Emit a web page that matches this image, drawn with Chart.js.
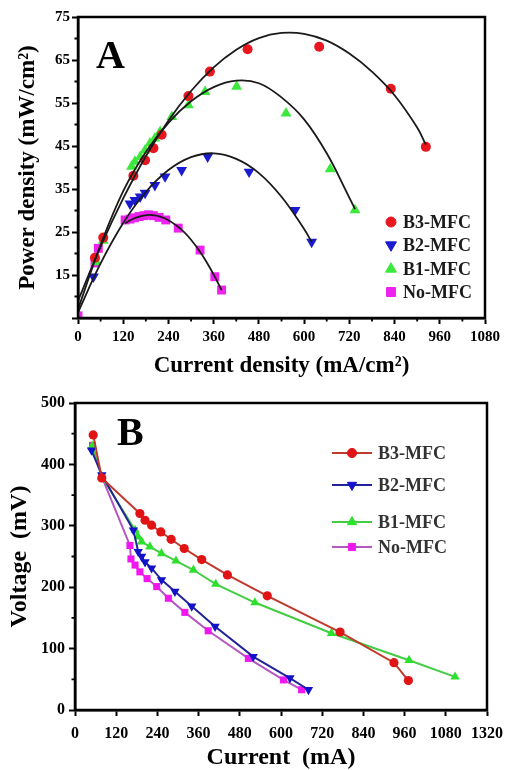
<!DOCTYPE html>
<html>
<head>
<meta charset="utf-8">
<script src="https://cdn.jsdelivr.net/npm/chart.js@4.4.1/dist/chart.umd.min.js"></script>
<style>
  html, body { margin: 0; padding: 0; background: #fff; }
  #wrap { position: relative; width: 515px; height: 770px; }
  .panel { position: absolute; left: 0; width: 515px; height: 385px; }
</style>
</head>
<body>
<div id="wrap">
  <div class="panel" style="top:0"><canvas id="chartA" width="515" height="385"></canvas></div>
  <div class="panel" style="top:385px"><canvas id="chartB" width="515" height="385"></canvas></div>
</div>
<script>
/* ================= DATA : panel A (power density) ================= */

const seriesNames = ["B3-MFC", "B2-MFC", "B1-MFC", "No-MFC"];

const b3CurrentA = [45, 67, 147, 178, 200, 222, 293, 350, 450, 640, 830, 923];
const b3PowerA   = [19, 23.7, 38.1, 41.7, 44.5, 47.6, 56.6, 62.3, 67.5, 68.1, 58.3, 44.8];

const b2CurrentA = [41, 138, 151, 165, 178, 204, 231, 275, 344, 454, 576, 620];
const b2PowerA   = [14.6, 31.6, 32.4, 33.2, 34.1, 35.9, 37.9, 39.4, 42.5, 39.0, 30.1, 22.7];

const b1CurrentA = [48, 67, 142, 151, 165, 178, 191, 204, 218, 249, 293, 337, 421, 552, 669, 735];
const b1PowerA   = [18, 23, 40.2, 41.4, 42.5, 44, 45.6, 46.8, 48.3, 51.8, 54.5, 57.6, 58.8, 52.6, 39.6, 30.1];

const noCurrentA = [0, 45, 54, 125, 138, 150, 162, 175, 187, 200, 215, 233, 266, 324, 363, 381];
const noPowerA   = [5.5, 17.8, 21.2, 27.8, 28.0, 28.3, 28.6, 28.8, 29.0, 28.8, 28.4, 27.8, 25.9, 20.8, 14.6, 11.5];

// fitted curves (black)
const b3FitX = [0, 60, 120, 180, 240, 300, 360, 420, 480, 540, 600, 660, 720, 780, 840, 900, 923];
const b3FitY = [9, 21.6, 32.8, 42.6, 50.9, 57.8, 63.3, 67.4, 70.1, 71.3, 71.1, 69.5, 66.5, 62.3, 56.8, 49.3, 45.3];
const b1FitX = [0, 60, 120, 180, 240, 300, 360, 420, 480, 540, 600, 660, 720, 735];
const b1FitY = [7, 22, 34.5, 43.6, 50.4, 55.4, 58.7, 60.2, 59.6, 56.3, 51.2, 43.3, 33.0, 30.3];
const b2FitX = [0, 60, 120, 180, 240, 300, 360, 420, 480, 540, 600, 620];
const b2FitY = [6.3, 17.7, 27.1, 34.3, 39.4, 42.4, 43.3, 42.0, 38.7, 33.2, 25.7, 22.7];
const noFitX = [125, 150, 190, 230, 270, 300, 330, 360, 381];
const noFitY = [27.0, 28.2, 29.0, 28.2, 25.9, 23.2, 19.6, 15.1, 11.5];

const xTicksA = ["0", "120", "240", "360", "480", "600", "720", "840", "960", "1080"];
const yTicksA = ["", "15", "25", "35", "45", "55", "65", "75"];

/* ================= DATA : panel B (polarisation) ================= */

const b3CurrentB = [53, 78, 189, 204, 223, 250, 280, 318, 369, 444, 560, 772, 929, 971];
const b3VoltB    = [448, 378, 320, 309, 301, 290, 278, 263, 245, 220, 186, 127, 77, 48];

const b2CurrentB = [48, 78, 170, 184, 194, 204, 223, 252, 291, 340, 408, 519, 626, 680];
const b2VoltB    = [423, 383, 293, 258, 250, 241, 231, 212, 193, 169, 136, 87, 52, 33];

const b1CurrentB = [50, 78, 175, 184, 194, 218, 252, 294, 345, 410, 524, 747, 973, 1107];
const b1VoltB    = [430, 380, 293, 282, 274, 266, 255, 243, 228, 205, 175, 125, 81, 54];

const noCurrentB = [51, 78, 160, 163, 175, 189, 210, 238, 272, 320, 388, 505, 607, 660];
const noVoltB    = [431, 380, 268, 246, 236, 225, 214, 201, 182, 159, 129, 84, 49, 33];

// the last label of the original axis reads 1320 although it sits one step after 1080
const xTicksB = ["0", "120", "240", "360", "480", "600", "720", "840", "960", "1080", "1320"];
const yTicksB = ["0", "100", "200", "300", "400", "500"];

/* ================= HELPERS ================= */

const SERIF = '"Liberation Serif", "Times New Roman", serif';

const pts = (xs, ys) => xs.map((x, i) => ({ x, y: ys[i] }));

function axis(o) {
    return {
        type: "linear",
        position: o.position,
        min: o.min,
        max: o.max,
        ticks: {
            stepSize: o.step,
            autoSkip: false,
            maxRotation: 0,
            color: "#000",
            padding: o.tickPad,
            font: { family: SERIF, size: o.tickSize, weight: "bold" },
            callback: (v, i) => o.labels[i],
        },
        grid: {
            drawOnChartArea: false,
            drawTicks: true,
            tickLength: 6,
            tickWidth: 2,
            tickColor: "#000",
        },
        border: { display: true, color: "#000", width: 2.5 },
        title: {
            display: true,
            text: o.title,
            color: "#000",
            padding: o.titlePad,
            font: { family: SERIF, size: o.titleSize, weight: "bold", lineHeight: 1 },
        },
        afterFit: s => {
            if (s.isHorizontal()) s.height = o.size;
            else s.width = o.size;
        },
    };
}

function drawMarker(ctx, style, radius, rotation, color, x, y) {
    ctx.save();
    ctx.fillStyle = color;
    ctx.strokeStyle = color;
    ctx.lineWidth = 1;
    Chart.helpers.drawPoint(ctx, { pointStyle: style, radius, rotation, borderWidth: 1 }, x, y);
    ctx.restore();
}

// frame, minor ticks, panel letter, legend
function decorPlugin(cfg) {
    return {
        id: "decor",
        afterDraw(chart) {
            const { ctx, chartArea: a, scales } = chart;
            ctx.save();

            ctx.strokeStyle = "#000";
            ctx.lineWidth = 2.5;
            ctx.strokeRect(a.left, a.top, a.right - a.left, a.bottom - a.top);

            ctx.lineWidth = 1.8;
            ctx.beginPath();
            cfg.minorX.forEach(v => {
                const px = scales.x.getPixelForValue(v);
                ctx.moveTo(px, a.bottom);
                ctx.lineTo(px, a.bottom + 3.5);
            });
            cfg.minorY.forEach(v => {
                const py = scales.y.getPixelForValue(v);
                ctx.moveTo(a.left, py);
                ctx.lineTo(a.left - 3.5, py);
            });
            ctx.stroke();

            ctx.fillStyle = "#000";
            ctx.font = `bold 40px ${SERIF}`;
            ctx.textBaseline = "alphabetic";
            ctx.textAlign = "left";
            ctx.fillText(cfg.letter, cfg.letterX, cfg.letterY);

            const lg = cfg.legend;
            ctx.font = `bold 18px ${SERIF}`;
            ctx.textBaseline = "middle";
            lg.rows.forEach((y, i) => {
                const ds = chart.data.datasets[i];
                if (lg.line) {
                    ctx.strokeStyle = ds.borderColor;
                    ctx.lineWidth = 2;
                    ctx.beginPath();
                    ctx.moveTo(lg.lineFrom, y);
                    ctx.lineTo(lg.lineTo, y);
                    ctx.stroke();
                }
                drawMarker(ctx, ds.pointStyle, lg.radius[i], ds.pointRotation || 0,
                    ds.pointBackgroundColor, lg.markerX, y);
                ctx.fillStyle = lg.textColor;
                ctx.fillText(seriesNames[i], lg.textX, y + 1);
            });

            ctx.restore();
        },
    };
}

const COLORS_A = ["#e8161e", "#1a1ad0", "#3ce83c", "#ee22ee"];
const STYLES = [
    { pointStyle: "circle", pointRotation: 0 },
    { pointStyle: "triangle", pointRotation: 180 },
    { pointStyle: "triangle", pointRotation: 0 },
    { pointStyle: "rect", pointRotation: 0 },
];

/* ================= PANEL A ================= */

const markerRadiusA = [5, 6.3, 6.3, 6.3];
const dataA = [pts(b3CurrentA, b3PowerA), pts(b2CurrentA, b2PowerA), pts(b1CurrentA, b1PowerA), pts(noCurrentA, noPowerA)];
const fitsA = [pts(b3FitX, b3FitY), pts(b2FitX, b2FitY), pts(b1FitX, b1FitY), pts(noFitX, noFitY)];

const datasetsA = dataA.map((d, i) => ({
    label: seriesNames[i],
    data: d,
    showLine: false,
    pointStyle: STYLES[i].pointStyle,
    pointRotation: STYLES[i].pointRotation,
    pointRadius: markerRadiusA[i],
    pointBackgroundColor: COLORS_A[i],
    pointBorderColor: COLORS_A[i],
    pointBorderWidth: 0,
    borderColor: COLORS_A[i],
    order: 2,
}));

fitsA.forEach(d => datasetsA.push({
    data: d,
    showLine: true,
    pointRadius: 0,
    borderColor: "#1a1a1a",
    borderWidth: 1.8,
    tension: 0.4,
    order: 1,
}));

new Chart(document.getElementById("chartA"), {
    type: "scatter",
    data: { datasets: datasetsA },
    options: {
        responsive: false,
        animation: false,
        events: [],
        layout: { padding: { top: 17, right: 30, left: 0, bottom: 0 } },
        plugins: { legend: { display: false }, tooltip: { enabled: false } },
        scales: {
            x: axis({ position: "bottom", min: 0, max: 1080, step: 120, labels: xTicksA,
                tickSize: 15, tickPad: 4, title: "Current density (mA/cm²)", titleSize: 23,
                titlePad: { top: 0, bottom: 7 }, size: 67 }),
            y: axis({ position: "left", min: 5, max: 75, step: 10, labels: yTicksA,
                tickSize: 15, tickPad: 2, title: "Power density (mW/cm²)", titleSize: 23,
                titlePad: { top: 17, bottom: 0 }, size: 78 }),
        },
    },
    plugins: [decorPlugin({
        minorX: [60, 180, 300, 420, 540, 660, 780, 900, 1020],
        minorY: [10, 20, 30, 40, 50, 60, 70],
        letter: "A", letterX: 96, letterY: 68,
        legend: { rows: [222, 245, 269, 292], markerX: 391, textX: 403,
            radius: [5, 6.3, 6.3, 6.3], line: false, textColor: "#1a1a1a" },
    })],
});

/* ================= PANEL B ================= */

const MARK_B = ["#e01414", "#1212c8", "#2ee02e", "#ee18ee"];
const LINE_B = ["#c03a2c", "#22229a", "#44cc44", "#b457c0"];
const markerRadiusB = [4.6, 5.4, 5.4, 5];

const dataB = [pts(b3CurrentB, b3VoltB), pts(b2CurrentB, b2VoltB), pts(b1CurrentB, b1VoltB), pts(noCurrentB, noVoltB)];

const datasetsB = dataB.map((d, i) => ({
    label: seriesNames[i],
    data: d,
    showLine: true,
    tension: 0,
    borderColor: LINE_B[i],
    borderWidth: 2,
    pointStyle: STYLES[i].pointStyle,
    pointRotation: STYLES[i].pointRotation,
    pointRadius: markerRadiusB[i],
    pointBackgroundColor: MARK_B[i],
    pointBorderColor: MARK_B[i],
    pointBorderWidth: 0,
    order: i,
}));

new Chart(document.getElementById("chartB"), {
    type: "scatter",
    data: { datasets: datasetsB },
    options: {
        responsive: false,
        animation: false,
        events: [],
        layout: { padding: { top: 18, right: 28, left: 0, bottom: 0 } },
        plugins: { legend: { display: false }, tooltip: { enabled: false } },
        scales: {
            x: axis({ position: "bottom", min: 0, max: 1200, step: 120, labels: xTicksB,
                tickSize: 16, tickPad: 8, title: "Current  (mA)", titleSize: 24,
                titlePad: { top: 0, bottom: 0 }, size: 60 }),
            y: axis({ position: "left", min: 0, max: 500, step: 100, labels: yTicksB,
                tickSize: 16, tickPad: 4, title: "Voltage  (mV)", titleSize: 24,
                titlePad: { top: 8, bottom: 0 }, size: 75 }),
        },
    },
    plugins: [decorPlugin({
        minorX: [],
        minorY: [50, 150, 250, 350, 450],
        letter: "B", letterX: 117, letterY: 60,
        legend: { rows: [68, 100, 137, 162], markerX: 352, textX: 378, lineFrom: 332, lineTo: 372,
            radius: [4.6, 5.4, 5.4, 5], line: true, textColor: "#333" },
    })],
});
</script>
</body>
</html>
